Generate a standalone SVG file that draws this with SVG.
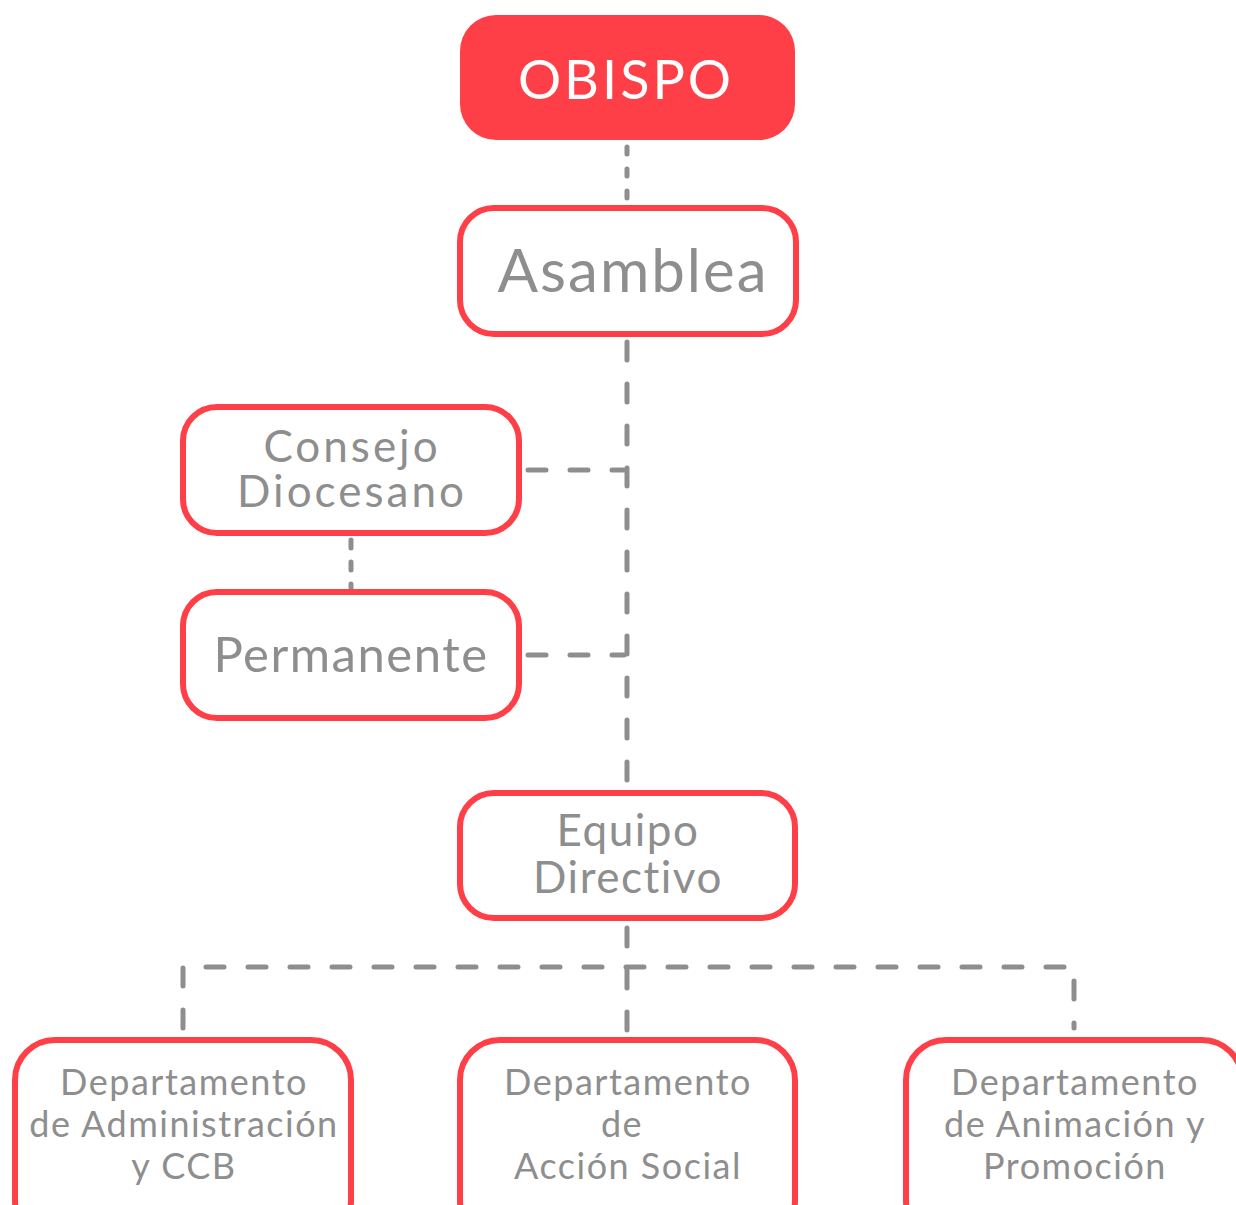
<svg xmlns="http://www.w3.org/2000/svg" width="1236" height="1205" viewBox="0 0 1236 1205">
<style>
.box{fill:#fff;stroke:#ff3f47;stroke-width:6}
.t{font-family:Lato,"Open Sans",sans-serif;fill:#8e8e8e;text-anchor:middle}
.s{font-size:36px;letter-spacing:1.5px}
.c{fill:none;stroke:#8e8e8e;stroke-width:5;stroke-linecap:round;stroke-dasharray:18 24}
</style>
<rect width="1236" height="1205" fill="#fff"/>
<g id="connectors">
<path class="c" style="stroke-dasharray:7 15" d="M627 147V204"/>
<path class="c" d="M627 342V790"/>
<path class="c" d="M528 470H624"/>
<path class="c" d="M528 655H624"/>
<path class="c" style="stroke-dasharray:8 14" d="M351 540V588"/>
<path class="c" d="M627 928V1036"/>
<path class="c" d="M183 1028V967H1074V1028"/>
</g>
<g id="obispo">
<rect x="460" y="15" width="335" height="125" rx="36" fill="#ff3f47"/>
<text x="626" y="99" font-family="Lato,'Open Sans',sans-serif" font-size="54" letter-spacing="3" fill="#fff" text-anchor="middle">OBISPO</text>
</g>
<g id="asamblea">
<rect class="box" x="460" y="208" width="336" height="126" rx="34"/>
<text class="t" x="633" y="292" font-size="60" letter-spacing="2">Asamblea</text>
</g>
<g id="consejo">
<rect class="box" x="183" y="407" width="336" height="126" rx="34"/>
<text class="t" x="352" y="462" font-size="44" letter-spacing="3">Consejo</text>
<text class="t" x="352" y="507" font-size="44" letter-spacing="3">Diocesano</text>
</g>
<g id="permanente">
<rect class="box" x="183" y="592" width="336" height="126" rx="34"/>
<text class="t" x="351" y="672" font-size="49" letter-spacing="1.5">Permanente</text>
</g>
<g id="equipo">
<rect class="box" x="460" y="793" width="335" height="125" rx="34"/>
<text class="t" x="628" y="846" font-size="44" letter-spacing="1.5">Equipo</text>
<text class="t" x="628" y="893" font-size="44" letter-spacing="1.5">Directivo</text>
</g>
<g id="dep-admin">
<rect class="box" x="15" y="1040" width="336" height="200" rx="40"/>
<text class="t s" x="184" y="1095">Departamento</text>
<text class="t s" x="184" y="1137">de Administración</text>
<text class="t s" x="184" y="1179">y CCB</text>
</g>
<g id="dep-social">
<rect class="box" x="460" y="1040" width="335" height="200" rx="40"/>
<text class="t s" x="628" y="1095">Departamento</text>
<text class="t s" x="622" y="1137">de</text>
<text class="t s" x="628" y="1179">Acción Social</text>
</g>
<g id="dep-animacion">
<rect class="box" x="906" y="1040" width="336" height="200" rx="40"/>
<text class="t s" x="1075" y="1095">Departamento</text>
<text class="t s" x="1075" y="1137">de Animación y</text>
<text class="t s" x="1075" y="1179">Promoción</text>
</g>
</svg>
